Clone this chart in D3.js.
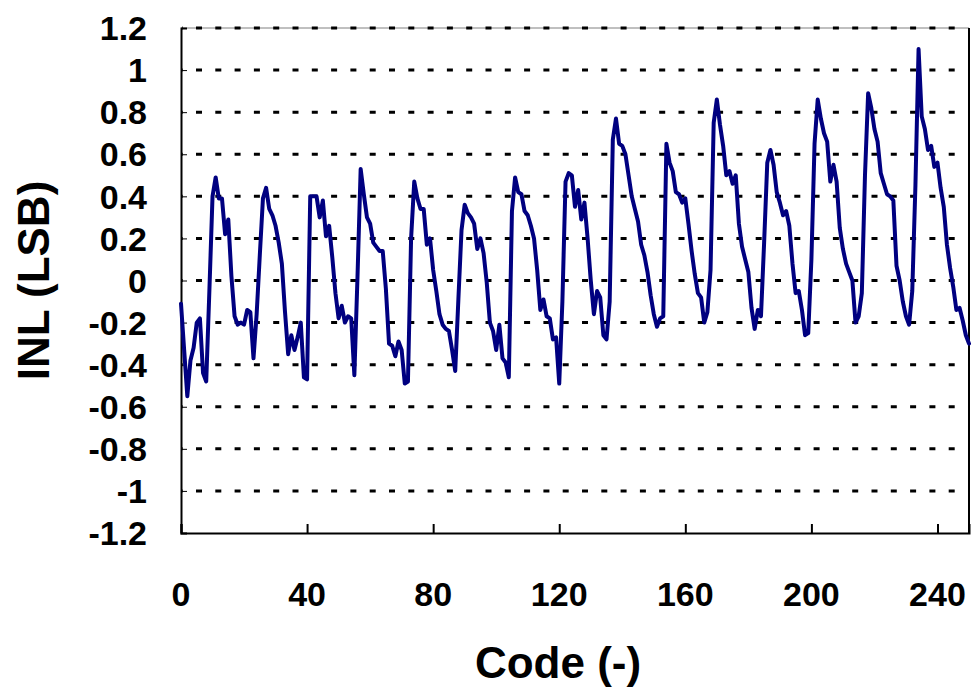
<!DOCTYPE html>
<html>
<head>
<meta charset="utf-8">
<script src="https://cdn.jsdelivr.net/npm/d3@7"></script>
<style>
  html, body { margin: 0; padding: 0; background: #ffffff; }
  svg { display: block; }
  text { font-family: "Liberation Sans", Arial, sans-serif; font-weight: bold; fill: #000; }
</style>
</head>
<body>
<svg id="chart" width="975" height="695"></svg>
<script>
// INL per output code, codes 0..250
const inl = [
  -0.11, -0.33, -0.55, -0.38, -0.32, -0.20, -0.18, -0.44, -0.48, -0.05,
   0.40,  0.49,  0.39,  0.39,  0.22,  0.29,  0.02, -0.17, -0.21, -0.20,
  -0.21, -0.14, -0.15, -0.37, -0.16,  0.12,  0.39,  0.44,  0.34,  0.31,
   0.26,  0.18,  0.08, -0.15, -0.35, -0.26, -0.33, -0.27, -0.20, -0.46,
  -0.47,  0.40,  0.40,  0.40,  0.30,  0.38,  0.21,  0.26,  0.11, -0.06,
  -0.18, -0.12, -0.20, -0.17, -0.18, -0.45,  0.02,  0.53,  0.41,  0.30,
   0.27,  0.18,  0.16,  0.14,  0.14, -0.04, -0.30, -0.31, -0.36, -0.29,
  -0.33, -0.49, -0.48,  0.20,  0.47,  0.39,  0.34,  0.34,  0.17,  0.20,
   0.05, -0.05, -0.16, -0.21, -0.23, -0.24, -0.33, -0.43, -0.09,  0.24,
   0.36,  0.32,  0.30,  0.27,  0.15,  0.20,  0.13, -0.01, -0.20, -0.24,
  -0.33, -0.21, -0.37, -0.39, -0.46,  0.33,  0.49,  0.42,  0.41,  0.33,
   0.31,  0.26,  0.20,  0.05, -0.14, -0.09, -0.17, -0.18, -0.28, -0.27,
  -0.49, -0.10,  0.47,  0.51,  0.50,  0.35,  0.43,  0.29,  0.37,  0.20,
   0.00, -0.16, -0.05, -0.08, -0.26, -0.28, -0.10,  0.67,  0.77,  0.65,
   0.64,  0.60,  0.50,  0.40,  0.34,  0.28,  0.17,  0.12,  0.04, -0.07,
  -0.16, -0.22, -0.18, -0.17,  0.65,  0.56,  0.52,  0.42,  0.41,  0.37,
   0.39,  0.27,  0.14,  0.03, -0.06, -0.08, -0.20, -0.15,  0.05,  0.75,
   0.86,  0.74,  0.64,  0.50,  0.52,  0.46,  0.50,  0.27,  0.16,  0.10,
   0.04, -0.13, -0.23, -0.14, -0.17,  0.18,  0.56,  0.62,  0.55,  0.42,
   0.37,  0.31,  0.33,  0.26,  0.08, -0.06, -0.05, -0.14, -0.26, -0.25,
   0.10,  0.65,  0.86,  0.77,  0.70,  0.66,  0.47,  0.55,  0.47,  0.25,
   0.15,  0.08,  0.04,  0.00, -0.20, -0.17, -0.06,  0.50,  0.89,  0.82,
   0.72,  0.66,  0.51,  0.46,  0.41,  0.40,  0.38,  0.07,  0.00, -0.10,
  -0.17, -0.21, -0.05,  0.45,  1.10,  0.78,  0.72,  0.62,  0.64,  0.54,
   0.56,  0.44,  0.35,  0.17,  0.06, -0.03, -0.14, -0.13, -0.19, -0.26,
  -0.30
];
const codes = inl.map((_, i) => i);

const xTicks = [0, 40, 80, 120, 160, 200, 240];
const yTicks = [-1.2, -1, -0.8, -0.6, -0.4, -0.2, 0, 0.2, 0.4, 0.6, 0.8, 1, 1.2];
const xTitle = "Code (-)";
const yTitle = "INL (LSB)";

const svg = d3.select("#chart");
const plotLeft = 181, plotRight = 969, plotTop = 28, plotBottom = 533;

const x = d3.scaleLinear().domain([0, 250]).range([plotLeft, plotRight]);
const y = d3.scaleLinear().domain([-1.2, 1.2]).range([plotBottom, plotTop]);
const fmt = d => String(+d.toFixed(1));

// plot frame: thin grey top edge, black right edge
svg.append("line")
  .attr("x1", plotLeft).attr("x2", plotRight).attr("y1", plotTop).attr("y2", plotTop)
  .attr("stroke", "#808080").attr("stroke-width", 1);
svg.append("line")
  .attr("x1", plotRight).attr("x2", plotRight).attr("y1", plotTop).attr("y2", plotBottom)
  .attr("stroke", "#000").attr("stroke-width", 2);

// dotted horizontal gridlines
svg.append("g").selectAll("line")
  .data(yTicks.filter(v => v > -1.2))
  .join("line")
  .attr("x1", plotLeft + 1).attr("x2", plotRight - 1)
  .attr("y1", d => y(d)).attr("y2", d => y(d))
  .attr("stroke", "#000").attr("stroke-width", 3)
  .attr("stroke-dasharray", "6 13.3")
  .attr("stroke-dashoffset", 5.3);

// y axis: inward ticks, labels to the left
const yAxis = svg.append("g")
  .attr("transform", `translate(${plotLeft},0)`)
  .call(d3.axisRight(y).tickValues(yTicks).tickSize(6).tickFormat(""));
yAxis.select(".domain").attr("stroke", "#000").attr("stroke-width", 2);
yAxis.selectAll(".tick line").attr("stroke", "#000").attr("stroke-width", 1);
svg.append("g").selectAll("text")
  .data(yTicks)
  .join("text")
  .attr("x", 147)
  .attr("y", d => y(d))
  .attr("dy", "0.36em")
  .attr("text-anchor", "end")
  .attr("font-size", 34)
  .text(fmt);

// x axis: inward ticks, labels below
const xAxis = svg.append("g")
  .attr("transform", `translate(0,${plotBottom})`)
  .call(d3.axisTop(x).tickValues(xTicks).tickSize(9).tickFormat(""));
xAxis.select(".domain").attr("stroke", "#000").attr("stroke-width", 2);
xAxis.selectAll(".tick line").attr("stroke", "#000").attr("stroke-width", 2);
svg.append("g").selectAll("text")
  .data(xTicks)
  .join("text")
  .attr("x", d => x(d))
  .attr("y", 606)
  .attr("text-anchor", "middle")
  .attr("font-size", 34)
  .text(fmt);

// INL trace
const line = d3.line().x((d, i) => x(codes[i])).y(d => y(d));
svg.append("path")
  .datum(inl)
  .attr("d", line)
  .attr("fill", "none")
  .attr("stroke", "#000080")
  .attr("stroke-width", 4)
  .attr("stroke-linejoin", "round")
  .attr("stroke-linecap", "round");

// axis titles
svg.append("text")
  .attr("x", 558).attr("y", 678)
  .attr("text-anchor", "middle")
  .attr("font-size", 44)
  .text(xTitle);
svg.append("text")
  .attr("transform", `translate(49,${(plotTop + plotBottom) / 2}) rotate(-90)`)
  .attr("text-anchor", "middle")
  .attr("font-size", 44)
  .text(yTitle);
</script>
</body>
</html>
